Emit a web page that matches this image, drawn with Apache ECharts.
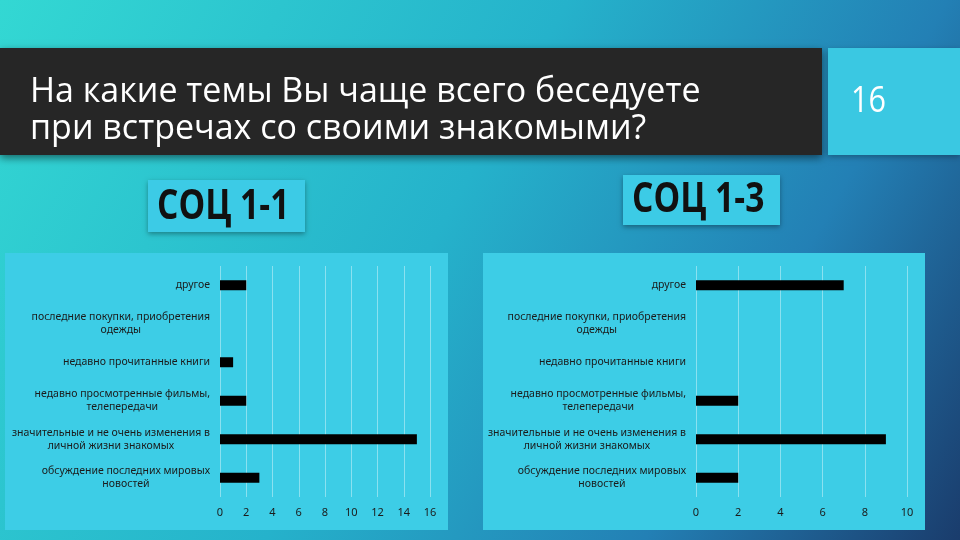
<!DOCTYPE html>
<html>
<head>
<meta charset="utf-8">
<script src="https://cdn.jsdelivr.net/npm/echarts@6/dist/echarts.min.js"></script>
<style>
  html, body { margin: 0; padding: 0; }
  #chart { width: 960px; height: 540px; }
</style>
</head>
<body>
<div id="chart"></div>
<script>
// темы разговоров (сверху вниз)
var categories = [
  'другое',
  'последние покупки, приобретения\nодежды',
  'недавно прочитанные книги',
  'недавно просмотренные фильмы,\nтелепередачи',
  'значительные и не очень изменения в\nличной жизни знакомых',
  'обсуждение последних мировых\nновостей'
];
var soc11 = [2, 0, 1, 2, 15, 3];
var soc13 = [7, 0, 0, 2, 9, 2];
var xTicksLeft = [0, 2, 4, 6, 8, 10, 12, 14, 16];
var xTicksRight = [0, 2, 4, 6, 8, 10];

var chart = echarts.init(document.getElementById('chart'));

// подписи категорий: каждая строка по центру
function labelFmt(v) {
  return v.split('\n').map(function (s) { return '{c|' + s + '}'; }).join('\n');
}

var yAxisBase = {
  type: 'category',
  data: categories,
  inverse: true,
  axisLine: { show: false },
  axisTick: { show: false },
  axisLabel: {
    formatter: labelFmt,
    margin: 10,
    rich: {
      c: { align: 'center', fontFamily: 'Noto Sans', fontSize: 10.5, color: '#1b1b1b', lineHeight: 13 }
    }
  }
};

function xAxisBase(gi, max) {
  return {
    type: 'value',
    gridIndex: gi,
    min: 0,
    max: max,
    interval: 2,
    axisLine: { show: false },
    axisTick: { show: false },
    axisLabel: { fontFamily: 'Noto Sans', fontSize: 11, color: '#1b1b1b', margin: 10 },
    splitLine: { lineStyle: { color: 'rgba(255,255,255,0.4)', width: 1 } }
  };
}

option = {
  animation: false,
  graphic: [
    { type: 'rect', z: -100, shape: { x: 0, y: 0, width: 960, height: 540 },
      style: { fill: { type: 'linear', x: 0, y: 0, x2: 1, y2: 1, colorStops: [
        { offset: 0, color: '#33d8d3' }, { offset: 0.45, color: '#25b2cb' },
        { offset: 0.75, color: '#2380b5' }, { offset: 1, color: '#1a3c6c' }] } } },
    { type: 'rect', z: -90, shape: { x: 0, y: 48, width: 822, height: 107 },
      style: { fill: '#262626', shadowBlur: 8, shadowColor: 'rgba(0,0,0,0.5)', shadowOffsetY: 3 } },
    { type: 'text', z: -80, left: 30, top: 74,
      style: { text: 'На какие темы Вы чаще всего беседуете\nпри встречах со своими знакомыми?',
        fill: '#ffffff', fontFamily: 'Open Sans', fontSize: 34, lineHeight: 37 } },
    { type: 'rect', z: -90, shape: { x: 828, y: 48, width: 132, height: 107 },
      style: { fill: '#3ac8e2', shadowBlur: 6, shadowColor: 'rgba(0,0,0,0.3)', shadowOffsetY: 2 } },
    { type: 'text', z: -80, left: 851, top: 84, scaleX: 0.85,
      style: { text: '16', fill: '#ffffff', fontFamily: 'Open Sans', fontSize: 36 } },
    { type: 'rect', z: -90, shape: { x: 148, y: 180, width: 157, height: 52 },
      style: { fill: '#3ccbe6', shadowBlur: 5, shadowColor: 'rgba(0,0,0,0.35)', shadowOffsetY: 2 } },
    { type: 'text', z: -80, x: 157, y: 186, scaleX: 0.8,
      style: { text: 'СОЦ 1-1', fill: '#111111', fontFamily: 'Open Sans', fontWeight: 'bold', fontSize: 42 } },
    { type: 'rect', z: -90, shape: { x: 623, y: 175, width: 157, height: 50 },
      style: { fill: '#3ccbe6', shadowBlur: 5, shadowColor: 'rgba(0,0,0,0.35)', shadowOffsetY: 2 } },
    { type: 'text', z: -80, x: 632, y: 179, scaleX: 0.8,
      style: { text: 'СОЦ 1-3', fill: '#111111', fontFamily: 'Open Sans', fontWeight: 'bold', fontSize: 42 } },
    { type: 'rect', z: -90, shape: { x: 5, y: 253, width: 443, height: 277 },
      style: { fill: '#3dcde6' } },
    { type: 'rect', z: -90, shape: { x: 483, y: 253, width: 442, height: 277 },
      style: { fill: '#3dcde6' } }
  ],
  grid: [
    { left: 220, right: 530, top: 266, height: 231 },
    { left: 696, right: 53, top: 266, height: 231 }
  ],
  xAxis: [xAxisBase(0, xTicksLeft[xTicksLeft.length - 1]), xAxisBase(1, xTicksRight[xTicksRight.length - 1])],
  yAxis: [
    Object.assign({ gridIndex: 0 }, yAxisBase),
    Object.assign({ gridIndex: 1 }, yAxisBase)
  ],
  series: [
    { type: 'bar', xAxisIndex: 0, yAxisIndex: 0, data: soc11, barWidth: 10, itemStyle: { color: '#000000' } },
    { type: 'bar', xAxisIndex: 1, yAxisIndex: 1, data: soc13, barWidth: 10, itemStyle: { color: '#000000' } }
  ]
};

chart.setOption(option);
</script>
</body>
</html>
